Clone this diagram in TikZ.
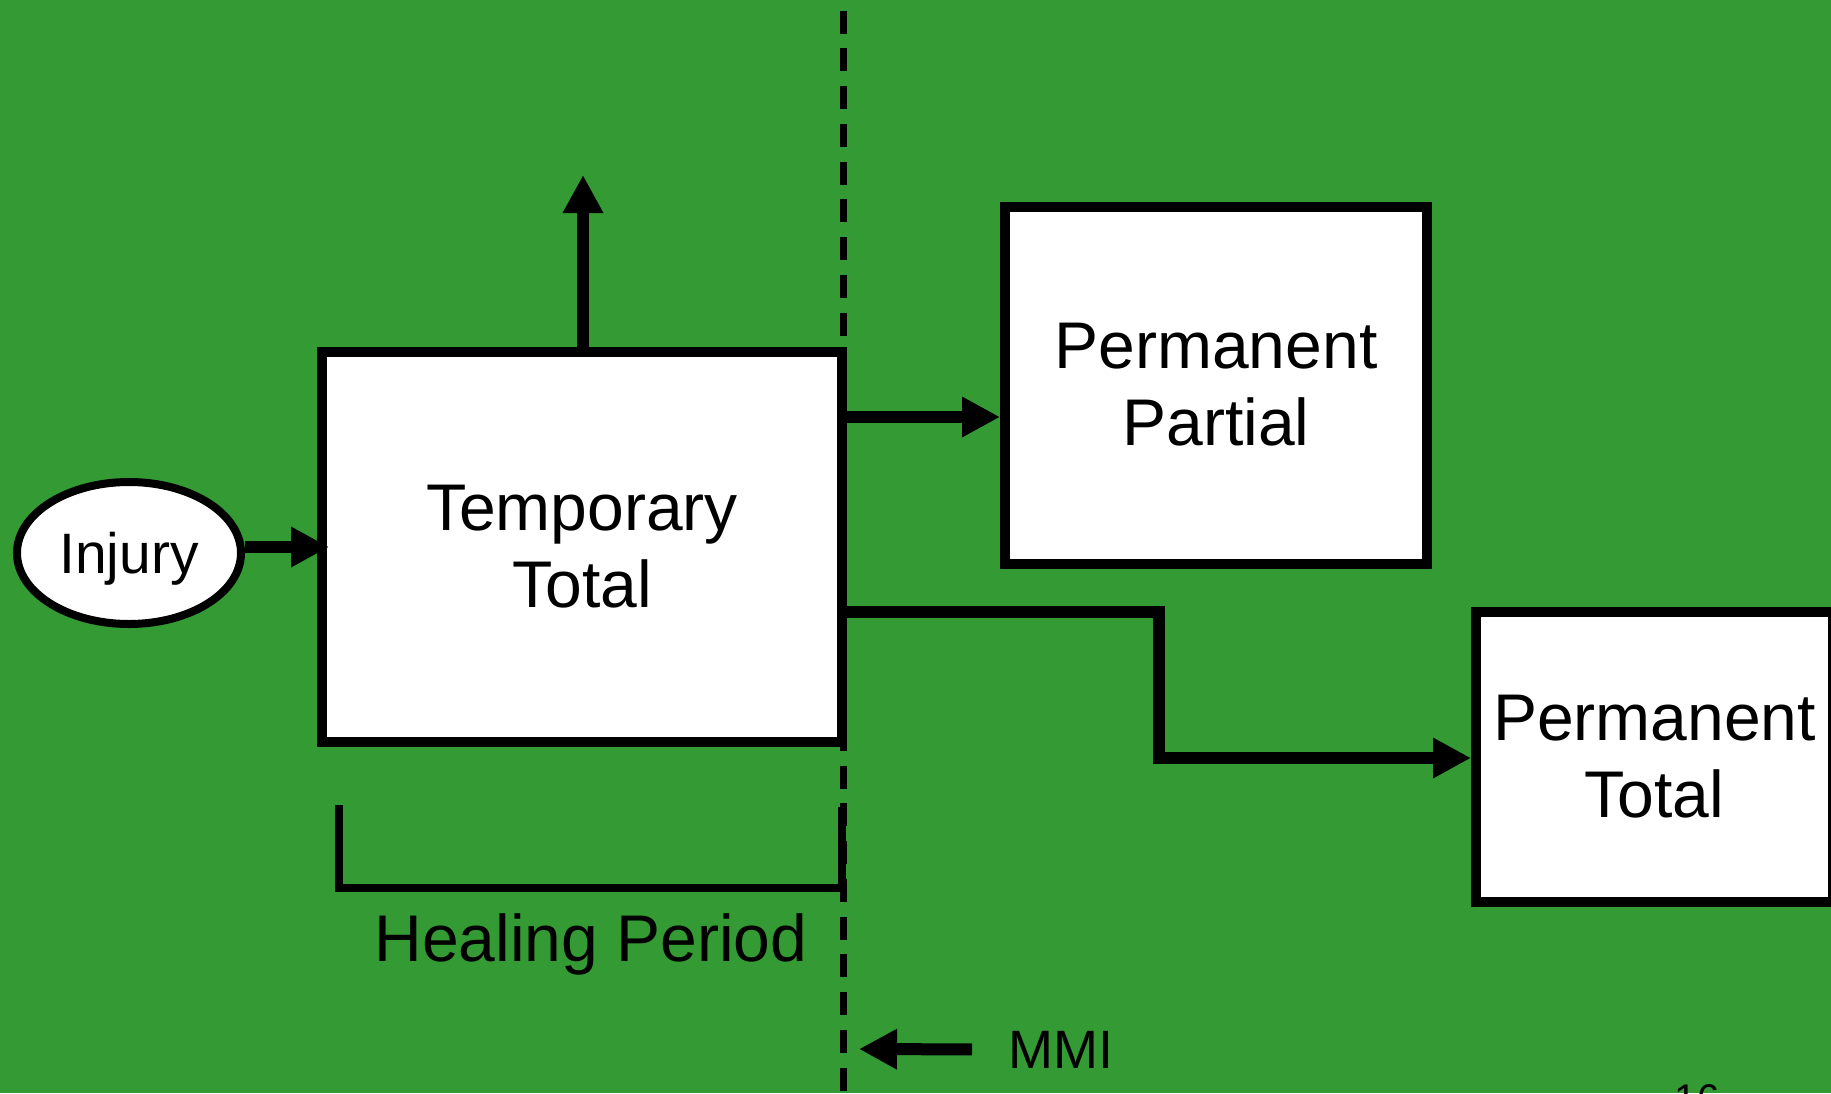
\documentclass[tikz,border=0pt]{standalone}
\usepackage{fontspec}
\setmainfont{Liberation Sans}
\usetikzlibrary{arrows.meta,shapes.geometric}
\definecolor{bggreen}{RGB}{52,154,52}
\begin{document}
\begin{tikzpicture}[x=1bp,y=-1bp,
  box/.style={draw=black, fill=white, line width=10bp, inner sep=0pt, align=center,
    font=\fontsize{66bp}{77bp}\selectfont},
  arr/.style={draw=black, line width=12bp, -{Triangle[length=38bp,width=38bp]}},
  bigtext/.style={inner sep=0pt, font=\fontsize{66bp}{77bp}\selectfont},
  midtext/.style={inner sep=0pt, font=\fontsize{54bp}{60bp}\selectfont},
  mmiline/.style={draw=black, line width=7bp, dash pattern=on 23bp off 14.75bp}]
\useasboundingbox (0,0) rectangle (1831,1093);
\begin{scope}
\clip (0,0) rectangle (1831,1093);
\fill[bggreen] (0,0) rectangle (1831,1093);
% MMI dashed line
\draw[mmiline] (843,10.7) -- (843,1100);
% boxes
\node[box, minimum width=520bp, minimum height=390bp] (tt) at (582,547) {Temporary\\Total};
\node[box, minimum width=422bp, minimum height=357bp] (pp) at (1216,385) {Permanent\\Partial};
\node[box, minimum width=357bp, minimum height=290bp] (pt) at (1654.5,757) {Permanent\\Total};
\node[draw=black, fill=white, ellipse, line width=8bp, minimum width=224bp, minimum height=142bp,
  inner sep=0pt, text depth=0pt, font=\fontsize{57bp}{66bp}\selectfont] (inj) at (129,553) {Injury};
% connectors
\draw[arr, shorten >=-12bp] ([yshift=6bp]inj.east) -- ([yshift=6bp]tt.west |- inj.east);
\coordinate (upend) at (583,175);
\draw[arr] (tt.north -| upend) -- (upend);
\draw[arr] (tt.east |- 0,417) -- (pp.west |- 0,417);
\draw[arr] (tt.east |- 0,612) -- (1159,612) -- (1159,758) -- (pt.west |- 0,758);
% healing period bracket
\draw[line width=8bp] (339,805) -- (339,888) -- (842,888) -- (842,807);
\node[bigtext, anchor=base] (heal) at (591,961) {Healing Period};
% MMI label
\node[midtext, text depth=0pt, anchor=base west] (mmi) at (1008,1068) {MMI};
\coordinate (mmitip) at (859,1049);
\draw[arr] ([xshift=-36bp]mmi.west) -- (mmitip);
% page number (cut off)
\node[inner sep=0pt, anchor=base, font=\fontsize{40bp}{48bp}\selectfont] (pg) at (1697,1112) {16};
\end{scope}
\end{tikzpicture}
\end{document}
